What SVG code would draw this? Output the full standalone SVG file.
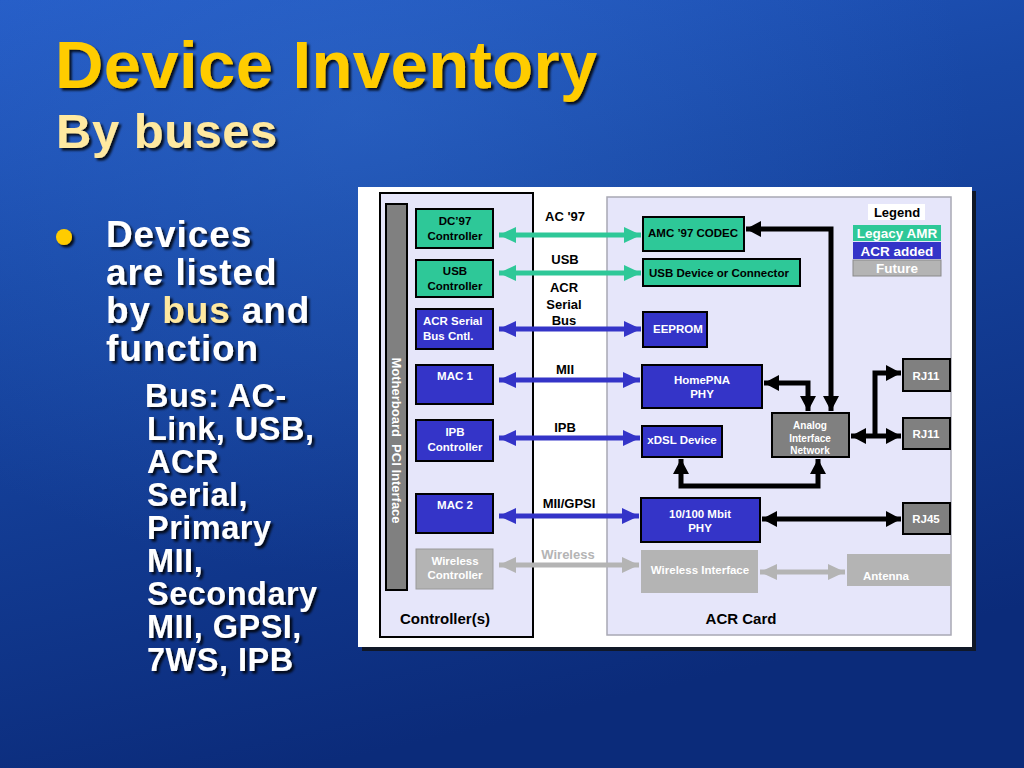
<svg xmlns="http://www.w3.org/2000/svg" width="1024" height="768" viewBox="0 0 1024 768">
<defs>
<linearGradient id="bg" x1="0" y1="0" x2="0.3" y2="1">
<stop offset="0" stop-color="#245bc6"/>
<stop offset="0.35" stop-color="#1848a6"/>
<stop offset="1" stop-color="#0b2b7a"/>
</linearGradient>
<radialGradient id="glow" cx="0.35" cy="0.15" r="0.6">
<stop offset="0" stop-color="#3a78d8" stop-opacity="0.35"/>
<stop offset="1" stop-color="#3a78d8" stop-opacity="0"/>
</radialGradient>
<filter id="sh" x="-5%" y="-5%" width="115%" height="130%">
<feDropShadow dx="2.5" dy="2.5" stdDeviation="1" flood-color="#000" flood-opacity="0.85"/>
</filter>
<marker id="mG" viewBox="0 0 17 16" refX="17" refY="8" markerWidth="17" markerHeight="16" markerUnits="userSpaceOnUse" orient="auto-start-reverse"><path d="M0,0 L17,8 L0,16 z" fill="#2ec898"/></marker>
<marker id="mB" viewBox="0 0 17 16" refX="17" refY="8" markerWidth="17" markerHeight="16" markerUnits="userSpaceOnUse" orient="auto-start-reverse"><path d="M0,0 L17,8 L0,16 z" fill="#3434c8"/></marker>
<marker id="mK" viewBox="0 0 15 16" refX="15" refY="8" markerWidth="15" markerHeight="16" markerUnits="userSpaceOnUse" orient="auto-start-reverse"><path d="M0,0 L15,8 L0,16 z" fill="#000"/></marker>
<marker id="mA" viewBox="0 0 17 16" refX="17" refY="8" markerWidth="17" markerHeight="16" markerUnits="userSpaceOnUse" orient="auto-start-reverse"><path d="M0,0 L17,8 L0,16 z" fill="#b4b4b4"/></marker>
<style>
.t{font-family:"Liberation Sans",Arial,sans-serif;font-weight:bold}
.g{fill:#2ec898;stroke:#000;stroke-width:2}
.b{fill:#3434c8;stroke:#000;stroke-width:2}
.k{fill:#808080;stroke:#000;stroke-width:2}
.f{fill:#b4b4b4}
.n{font-family:"Liberation Sans",Arial,sans-serif;font-weight:bold;font-size:11.5px}
.nb{fill:#000}
.nw{fill:#fff}
.c{text-anchor:middle}
.lb{font-family:"Liberation Sans",Arial,sans-serif;font-weight:bold;font-size:13px;fill:#000;text-anchor:middle}
.bus{fill:none;stroke-width:5}
.blk{fill:none;stroke:#000;stroke-width:5}
</style>
</defs>
<rect width="1024" height="768" fill="url(#bg)"/>
<rect width="1024" height="768" fill="url(#glow)"/>

<g id="title">
<text class="t" x="55" y="88" font-size="67" fill="#ffcc00" filter="url(#sh)" letter-spacing="0.4">Device Inventory</text>
<text class="t" x="56" y="148" font-size="49" fill="#ffe9a0" filter="url(#sh)" letter-spacing="0.5">By buses</text>
</g>

<g id="bullets" class="t" fill="#fff" filter="url(#sh)">
<circle cx="64" cy="237" r="8" fill="#ffcc00"/>
<g font-size="37" letter-spacing="0.9">
<text x="106" y="247">Devices</text>
<text x="106" y="285">are listed</text>
<text x="106" y="323">by <tspan fill="#ffe9a0">bus</tspan> and</text>
<text x="106" y="361">function</text>
</g>
<g font-size="32.5" letter-spacing="0.5">
<text x="145" y="407">Bus: AC-</text>
<text x="147" y="440">Link, USB,</text>
<text x="147" y="473">ACR</text>
<text x="147" y="506">Serial,</text>
<text x="147" y="539">Primary</text>
<text x="147" y="572">MII,</text>
<text x="147" y="605">Secondary</text>
<text x="147" y="638">MII, GPSI,</text>
<text x="147" y="671">7WS, IPB</text>
</g>
</g>

<g id="panel">
<rect x="362" y="191" width="614" height="460" fill="#101828"/>
<rect x="358" y="187" width="614" height="460" fill="#fff"/>
</g>

<g id="controllers">
<rect x="380" y="193" width="153" height="444" fill="#e6e6fa" stroke="#000" stroke-width="2"/>
<text class="t" x="445" y="624" font-size="15" text-anchor="middle">Controller(s)</text>
</g>
<g id="acrcard">
<rect x="607" y="197" width="344" height="438" fill="#e6e6fa" stroke="#a8a8b4" stroke-width="1.5"/>
<text class="t" x="741" y="624" font-size="15" text-anchor="middle">ACR Card</text>
</g>

<g id="pci">
<rect x="386" y="204" width="21" height="386" class="k"/>
<text class="t" transform="translate(392,440.5) rotate(90)" font-size="13" fill="#fff" text-anchor="middle" xml:space="preserve">Motherboard  PCI Interface</text>
</g>

<g id="dc97"><rect x="416" y="209" width="77" height="39" class="g"/><text class="n nb c" x="455" y="225">DC’97</text><text class="n nb c" x="455" y="240">Controller</text></g>
<g id="usbctl"><rect x="416" y="260" width="77" height="37" class="g"/><text class="n nb c" x="455" y="275">USB</text><text class="n nb c" x="455" y="290">Controller</text></g>
<g id="acrsbc"><rect x="416" y="309" width="77" height="40" class="b"/><text class="n nw" x="423" y="325">ACR Serial</text><text class="n nw" x="423" y="340">Bus Cntl.</text></g>
<g id="mac1"><rect x="416" y="365" width="77" height="39" class="b"/><text class="n nw c" x="455" y="380">MAC 1</text></g>
<g id="ipbctl"><rect x="416" y="420" width="77" height="41" class="b"/><text class="n nw c" x="455" y="436">IPB</text><text class="n nw c" x="455" y="451">Controller</text></g>
<g id="mac2"><rect x="416" y="494" width="77" height="39" class="b"/><text class="n nw c" x="455" y="509">MAC 2</text></g>
<g id="wlctl"><rect x="416" y="549" width="77" height="40" class="f" stroke="#9a9a9a" stroke-width="1"/><text class="n nw c" x="455" y="565">Wireless</text><text class="n nw c" x="455" y="579">Controller</text></g>

<g id="amc"><rect x="643" y="217" width="101" height="34" class="g"/><text class="n nb" x="648" y="237">AMC ’97 CODEC</text></g>
<g id="usbdev"><rect x="643" y="259" width="157" height="27" class="g"/><text class="n nb" x="649" y="277">USB Device or Connector</text></g>
<g id="eeprom"><rect x="643" y="312" width="64" height="35" class="b"/><text class="n nw" x="653" y="333">EEPROM</text></g>
<g id="homepna"><rect x="642" y="365" width="120" height="43" class="b"/><text class="n nw c" x="702" y="384">HomePNA</text><text class="n nw c" x="702" y="398">PHY</text></g>
<g id="xdsl"><rect x="642" y="426" width="80" height="31" class="b"/><text class="n nw c" x="682" y="444">xDSL Device</text></g>
<g id="analog"><rect x="772" y="413" width="77" height="44" class="k"/><text class="t nw c" font-size="10" x="810" y="429">Analog</text><text class="t nw c" font-size="10" x="810" y="442">Interface</text><text class="t nw c" font-size="10" x="810" y="454">Network</text></g>
<g id="rj11a"><rect x="903" y="359" width="47" height="32" class="k"/><text class="n nw c" x="926" y="380">RJ11</text></g>
<g id="rj11b"><rect x="903" y="418" width="47" height="31" class="k"/><text class="n nw c" x="926" y="438">RJ11</text></g>
<g id="phy"><rect x="641" y="498" width="119" height="44" class="b"/><text class="n nw c" x="700" y="518">10/100 Mbit</text><text class="n nw c" x="700" y="532">PHY</text></g>
<g id="rj45"><rect x="903" y="503" width="47" height="31" class="k"/><text class="n nw c" x="926" y="523">RJ45</text></g>
<g id="wlif"><rect x="641" y="550" width="117" height="43" class="f"/><text class="n nw c" x="700" y="574">Wireless Interface</text></g>
<g id="antenna"><rect x="847" y="554" width="104" height="32" class="f"/><text class="n nw" x="863" y="580">Antenna</text></g>

<g id="legend">
<rect x="868" y="204" width="57" height="16" fill="#fff"/>
<text class="t" x="897" y="217" font-size="13" text-anchor="middle">Legend</text>
<rect x="853" y="225" width="88" height="16" fill="#2ec898"/>
<text class="t nw c" x="897" y="238" font-size="13.5">Legacy AMR</text>
<rect x="853" y="242" width="88" height="17" fill="#3434c8"/>
<text class="t nw c" x="897" y="256" font-size="13.5">ACR added</text>
<rect x="853" y="260" width="88" height="16" fill="#b4b4b4" stroke="#8a8a8a" stroke-width="1"/>
<text class="t nw c" x="897" y="273" font-size="13.5">Future</text>
</g>

<g id="connectors">
<line class="bus" x1="499" y1="235" x2="641" y2="235" stroke="#2ec898" marker-start="url(#mG)" marker-end="url(#mG)"/>
<line class="bus" x1="499" y1="273" x2="641" y2="273" stroke="#2ec898" marker-start="url(#mG)" marker-end="url(#mG)"/>
<line class="bus" x1="499" y1="329" x2="641" y2="329" stroke="#3434c8" marker-start="url(#mB)" marker-end="url(#mB)"/>
<line class="bus" x1="499" y1="380" x2="640" y2="380" stroke="#3434c8" marker-start="url(#mB)" marker-end="url(#mB)"/>
<line class="bus" x1="499" y1="438" x2="640" y2="438" stroke="#3434c8" marker-start="url(#mB)" marker-end="url(#mB)"/>
<line class="bus" x1="499" y1="516" x2="639" y2="516" stroke="#3434c8" marker-start="url(#mB)" marker-end="url(#mB)"/>
<line class="bus" x1="499" y1="565" x2="639" y2="565" stroke="#b4b4b4" marker-start="url(#mA)" marker-end="url(#mA)"/>
<polyline class="blk" points="746,229 831,229 831,411" marker-start="url(#mK)" marker-end="url(#mK)"/>
<polyline class="blk" points="764,383 808,383 808,411" marker-start="url(#mK)" marker-end="url(#mK)"/>
<polyline class="blk" points="681,459 681,486 818,486 818,459" marker-start="url(#mK)" marker-end="url(#mK)"/>
<line class="blk" x1="851" y1="436" x2="901" y2="436" marker-start="url(#mK)" marker-end="url(#mK)"/>
<polyline class="blk" points="875,436 875,373 901,373" marker-end="url(#mK)"/>
<line class="blk" x1="762" y1="519" x2="901" y2="519" marker-start="url(#mK)" marker-end="url(#mK)"/>
<line class="bus" x1="760" y1="572" x2="845" y2="572" stroke="#b4b4b4" stroke-width="4" marker-start="url(#mA)" marker-end="url(#mA)"/>
<text class="lb" x="565" y="221">AC '97</text>
<text class="lb" x="565" y="264">USB</text>
<text class="lb" x="564" y="292">ACR</text>
<text class="lb" x="564" y="309">Serial</text>
<text class="lb" x="564" y="325">Bus</text>
<text class="lb" x="565" y="374">MII</text>
<text class="lb" x="565" y="432">IPB</text>
<text class="lb" x="569" y="508">MII/GPSI</text>
<text class="lb" x="568" y="559" style="fill:#b4b4b4">Wireless</text>
</g>
</svg>
